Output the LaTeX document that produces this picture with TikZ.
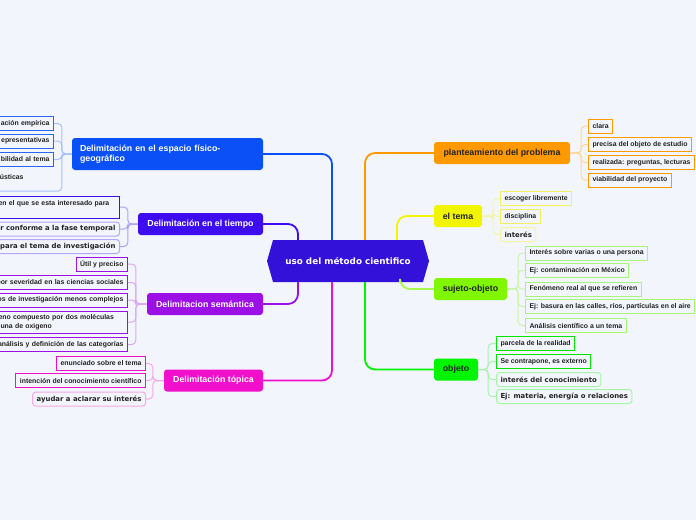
\documentclass[tikz,border=0pt]{standalone}
\usepackage{fontspec}
\setmainfont{Liberation Sans}
\newfontfamily\dejavu{DejaVu Sans}

\definecolor{bgcol}{HTML}{F3F5FD}
\definecolor{rootcol}{HTML}{3311D9}
\definecolor{spcol}{HTML}{0B50F6}
\definecolor{spleaf}{HTML}{2B66F0}
\definecolor{spbus}{HTML}{A8C0F8}
\definecolor{ticol}{HTML}{3D0CF0}
\definecolor{tisoft}{HTML}{B5A6F7}
\definecolor{tibus}{HTML}{ADA0F5}
\definecolor{secol}{HTML}{9C10E6}
\definecolor{sebus}{HTML}{D9A6F5}
\definecolor{tocol}{HTML}{F20FCB}
\definecolor{tosoft}{HTML}{F7A6E6}
\definecolor{tobus}{HTML}{F7A6E6}
\definecolor{plcol}{HTML}{FF9900}
\definecolor{plbus}{HTML}{FCD69A}
\definecolor{tecol}{HTML}{F2F500}
\definecolor{teleaf}{HTML}{F0F060}
\definecolor{tebus}{HTML}{F5F5A0}
\definecolor{sucol}{HTML}{80F700}
\definecolor{suleaf}{HTML}{A6F574}
\definecolor{subus}{HTML}{C8F5A6}
\definecolor{obcol}{HTML}{00F500}
\definecolor{obleaf}{HTML}{00E600}
\definecolor{obsoft}{HTML}{A6F5A6}
\definecolor{obbus}{HTML}{A6F5A6}
\definecolor{ink}{HTML}{222222}

\tikzset{
  branch/.style={rounded corners=3pt, minimum height=22pt, inner xsep=8pt,
    font=\fontsize{8.8}{10.5}\selectfont\bfseries, text=ink},
  leaf/.style={draw, line width=1pt, minimum height=14pt, inner xsep=4pt, inner ysep=2pt,
    font=\fontsize{6.9}{8.5}\selectfont\bfseries, text=ink},
  softleaf/.style={leaf, rounded corners=3pt, font=\dejavu\fontsize{6.9}{8.5}\selectfont\bfseries},
  cut/.style={anchor=east, text width=180pt, align=right},
  link/.style={line width=1.8pt, rounded corners=10pt},
  bus/.style={line width=1pt, rounded corners=4pt},
}

\begin{document}
\begin{tikzpicture}[x=1pt, y=-1pt]
    \path[use as bounding box, fill=bgcol] (0,0) rectangle (696,520);
    % centre
    \fill[rootcol] (273,240) -- (423,240) -- (429,261) -- (423,282) -- (273,282) -- (267,261) -- cycle;
    \node (root) [minimum width=150pt, minimum height=42pt, text=white,
      font=\dejavu\fontsize{8.8}{10}\selectfont\bfseries] at (348,261) {uso del método cientifico};
    % main branches
    \node[branch, fill=spcol, text=white, text width=175pt, align=left, minimum height=32pt] (espacio) at (167.5,154)
      {Delimitación en el espacio físico-\\geográfico};
    \node[branch, fill=ticol, text=white, minimum width=125pt] (tiempo) at (200.5,224) {Delimitación en el tiempo};
    \node[branch, fill=secol, text=white, minimum width=116pt] (semantica) at (205,304) {Delimitacion semántica};
    \node[branch, fill=tocol, text=white, minimum width=99pt] (topica) at (213.5,380.5) {Delimitación tópica};
    \node[branch, fill=plcol, minimum width=136pt] (problema) at (502,153) {planteamiento del problema};
    \node[branch, fill=tecol, minimum width=48pt] (tema) at (458,216) {el tema};
    \node[branch, fill=sucol, minimum width=73pt] (sujeto) at (470.5,289) {sujeto-objeto};
    \node[branch, fill=obcol, minimum width=44pt] (objeto) at (456,369.5) {objeto};
    % links to the centre
    \draw[link, spcol] ([xshift=-16pt]root.north) |- (espacio.east);
    \draw[link, ticol] ([xshift=-50pt]root.north) |- (tiempo.east);
    \draw[link, secol] ([xshift=-50pt]root.south) |- (semantica.east);
    \draw[link, tocol] ([xshift=-16pt]root.south) |- (topica.east);
    \draw[link, plcol] ([xshift=17pt]root.north) |- (problema.west);
    \draw[link, tecol] ([xshift=49pt]root.north) |- (tema.west);
    \draw[link, sucol!70!white] ([xshift=52pt]root.south) |- (sujeto.west);
    \draw[link, obcol] ([xshift=17pt]root.south) |- (objeto.west);

    % espacio
    \node[leaf, draw=spleaf, cut] (empirica) at (54,123.5) {ación empírica};
    \node[leaf, draw=spleaf, cut] (represent) at (54,141) {epresentativas};
    \node[leaf, draw=spleaf, cut] (viab) at (54,159.5) {bilidad al tema};
    \node[font=\fontsize{6.9}{8.5}\selectfont\bfseries, text=ink, anchor=east, text width=52pt, align=left,
      inner xsep=2pt, minimum height=28pt] (acusticas) at (54,177) {ústicas};
    \foreach \c in {empirica,represent,viab}
      \draw[bus, spbus] (espacio.west) -- ++(-10,0) |- (\c.east);
    \draw[bus, spbus] (espacio.west) -- ++(-10,0) |- (acusticas.south east) -- (acusticas.south west);

    % tiempo
    \node[leaf, draw=ticol, anchor=east, text width=118pt, align=left, inner xsep=3pt, minimum height=22pt]
      (interesado) at (120,207) {en el que se esta interesado para\\ ~};
    \node[softleaf, draw=tisoft, cut] (fase) at (120,229) {r conforme a la fase temporal};
    \node[softleaf, draw=tisoft, cut] (investig) at (120,246.5) {para el tema de investigación};
    \foreach \c in {interesado,fase,investig}
      \draw[bus, tibus] (tiempo.west) -- ++(-10,0) |- (\c.east);

    % semantica
    \node[leaf, draw=secol, anchor=east] (util) at (128,264) {Útil y preciso};
    \node[leaf, draw=secol, cut] (severidad) at (128,282.5) {por severidad en las ciencias sociales};
    \node[leaf, draw=secol, cut] (complejos) at (128,300) {os de investigación menos complejos};
    \node[leaf, draw=secol, anchor=east, text width=126pt, align=left, inner xsep=3pt, minimum height=22pt]
      (oxigeno) at (128,322) {eno compuesto por dos moléculas\\\hspace*{2pt}una de oxigeno};
    \node[leaf, draw=secol, cut] (categorias) at (128,344.5) {análisis y definición de las categorías};
    \foreach \c in {util,severidad,complejos,oxigeno,categorias}
      \draw[bus, sebus] (semantica.west) -- ++(-11,0) |- (\c.east);

    % topica
    \node[leaf, draw=tocol, anchor=east] (enunciado) at (146,363.5) {enunciado sobre el tema};
    \node[leaf, draw=tocol, anchor=east] (intencion) at (146,380.5) {intención del conocimiento científico};
    \node[softleaf, draw=tosoft, anchor=east] (aclarar) at (146,399) {ayudar a aclarar su interés};
    \foreach \c in {enunciado,intencion,aclarar}
      \draw[bus, tobus] (topica.west) -- ++(-11,0) |- (\c.east);

    % planteamiento
    \node[leaf, draw=plcol, anchor=west] (clara) at (588,126) {clara};
    \node[leaf, draw=plcol, anchor=west] (precisa) at (588,144.5) {precisa del objeto de estudio};
    \node[leaf, draw=plcol, anchor=west] (lecturas) at (588,162.5) {realizada: preguntas, lecturas};
    \node[leaf, draw=plcol, anchor=west] (proyecto) at (588,180) {viabilidad del proyecto};
    \foreach \c in {clara,precisa,lecturas,proyecto}
      \draw[bus, plbus] (problema.east) -- ++(11,0) |- (\c.west);

    % el tema
    \node[leaf, draw=teleaf, anchor=west] (libremente) at (500,198.5) {escoger libremente};
    \node[leaf, draw=teleaf, anchor=west] (disciplina) at (500,216.5) {disciplina};
    \node[softleaf, draw=tebus, anchor=west] (interes) at (500,234.5) {interés};
    \foreach \c in {libremente,disciplina,interes}
      \draw[bus, tebus] (tema.east) -- ++(11,0) |- (\c.west);

    % sujeto-objeto
    \node[leaf, draw=suleaf, anchor=west] (persona) at (525,253) {Interés sobre varias o una persona};
    \node[leaf, draw=suleaf, anchor=west] (mexico) at (525,270.5) {Ej: contaminación en México};
    \node[leaf, draw=suleaf, anchor=west] (fenomeno) at (525,289) {Fenómeno real al que se refieren};
    \node[leaf, draw=suleaf, anchor=west] (basura) at (525,306.5) {Ej: basura en las calles, ríos, partículas en el aire};
    \node[leaf, draw=suleaf, anchor=west] (analisis) at (525,325.5) {Análisis científico a un tema};
    \foreach \c in {persona,mexico,fenomeno,basura,analisis}
      \draw[bus, subus] (sujeto.east) -- ++(11,0) |- (\c.west);

    % objeto
    \node[leaf, draw=obleaf, anchor=west] (parcela) at (496,343.5) {parcela de la realidad};
    \node[leaf, draw=obleaf, anchor=west] (externo) at (496,361.5) {Se contrapone, es externo};
    \node[softleaf, draw=obsoft, anchor=west] (conocim) at (496,379.5) {interés del conocimiento};
    \node[softleaf, draw=obsoft, anchor=west] (materia) at (496,396.5) {Ej: materia, energía o relaciones};
    \foreach \c in {parcela,externo,conocim,materia}
      \draw[bus, obbus] (objeto.east) -- ++(10,0) |- (\c.west);
\end{tikzpicture}
\end{document}
